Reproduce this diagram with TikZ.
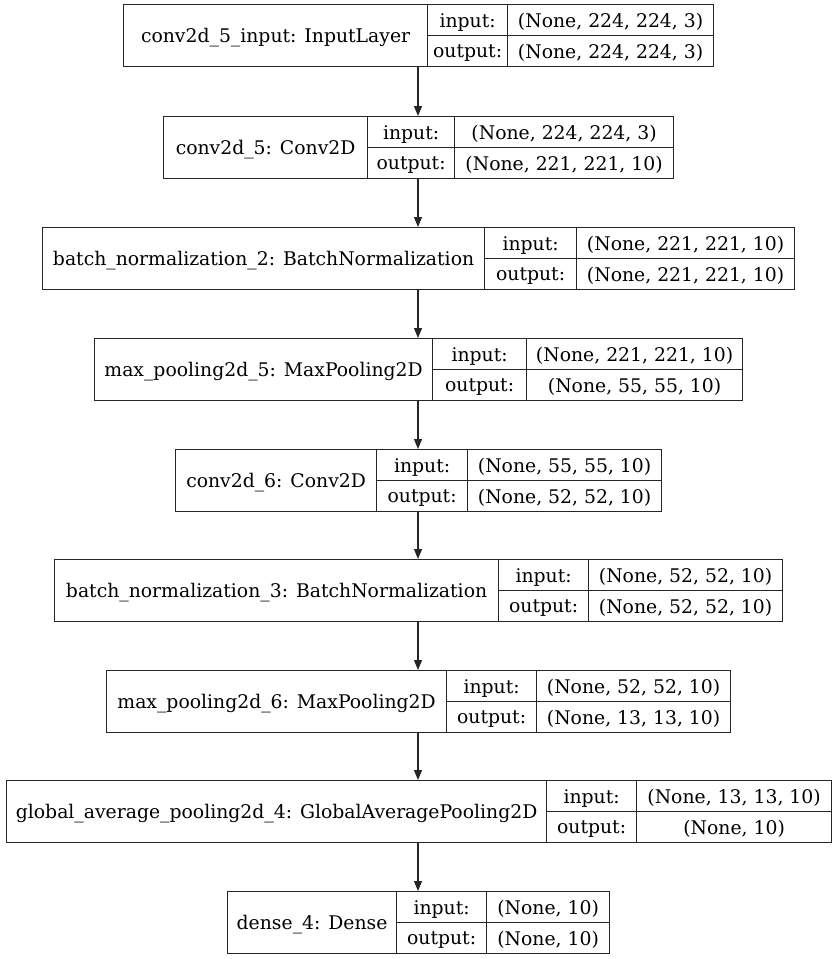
\documentclass[tikz,border=0pt]{standalone}
\usepackage{fontspec}
\setmainfont{DejaVu Serif}
\usetikzlibrary{arrows.meta}
\tikzset{
  cell/.style={draw=black!85, line width=1.2pt, inner sep=0pt, anchor=north west,
    font=\fontsize{18.8}{20}\selectfont},
  arr/.style={draw=black!85, line width=1.2pt, -{Triangle[length=10pt,width=8pt]}},
}
% cell text sits a little below the cell centre
\newcommand\celltext[1]{\raisebox{-2pt}[\height][\depth]{#1}}
% one layer: name, left, divider 1, divider 2, right, top, label, input shape, output shape
\newcommand\layerbox[9]{%
  \node[cell, minimum width={(#3-#2)*1pt}, minimum height=62pt] (#1) at (#2,-#6) {\celltext{#7}};
  \node[cell, minimum width={(#4-#3)*1pt}, minimum height=31pt] (#1-ik) at (#3,-#6) {\celltext{input:}};
  \node[cell, minimum width={(#4-#3)*1pt}, minimum height=31pt] (#1-ok) at (#3,-#6-31) {\celltext{output:}};
  \node[cell, minimum width={(#5-#4)*1pt}, minimum height=31pt] (#1-iv) at (#4,-#6) {\celltext{#8}};
  \node[cell, minimum width={(#5-#4)*1pt}, minimum height=31pt] (#1-ov) at (#4,-#6-31) {\celltext{#9}};
}
\begin{document}
\begin{tikzpicture}[x=1pt,y=1pt]
\useasboundingbox (0,0) rectangle (836,-959);
\coordinate (ax) at (418,0);
\layerbox{l1}{123}{427}{507}{713}{4}{conv2d\_5\_input: InputLayer}{(None, 224, 224, 3)}{(None, 224, 224, 3)}
\layerbox{l2}{163}{367}{454}{673}{116}{conv2d\_5: Conv2D}{(None, 224, 224, 3)}{(None, 221, 221, 10)}
\layerbox{l3}{42}{484}{576}{794}{227}{batch\_normalization\_2: BatchNormalization}{(None, 221, 221, 10)}{(None, 221, 221, 10)}
\layerbox{l4}{94}{432}{526}{742}{338}{max\_pooling2d\_5: MaxPooling2D}{(None, 221, 221, 10)}{(None, 55, 55, 10)}
\layerbox{l5}{175}{376}{467}{661}{449}{conv2d\_6: Conv2D}{(None, 55, 55, 10)}{(None, 52, 52, 10)}
\layerbox{l6}{54}{498}{588}{782}{559}{batch\_normalization\_3: BatchNormalization}{(None, 52, 52, 10)}{(None, 52, 52, 10)}
\layerbox{l7}{106}{446}{536}{730}{670}{max\_pooling2d\_6: MaxPooling2D}{(None, 52, 52, 10)}{(None, 13, 13, 10)}
\layerbox{l8}{6}{546}{636}{831}{780}{global\_average\_pooling2d\_4: GlobalAveragePooling2D}{(None, 13, 13, 10)}{(None, 10)}
\layerbox{l9}{227}{396}{486}{609}{891}{dense\_4: Dense}{(None, 10)}{(None, 10)}
\foreach \a/\b in {l1/l2,l2/l3,l3/l4,l4/l5,l5/l6,l6/l7,l7/l8,l8/l9}
  \draw[arr] (\a.south -| ax) -- (\b.north -| ax);
\end{tikzpicture}
\end{document}
